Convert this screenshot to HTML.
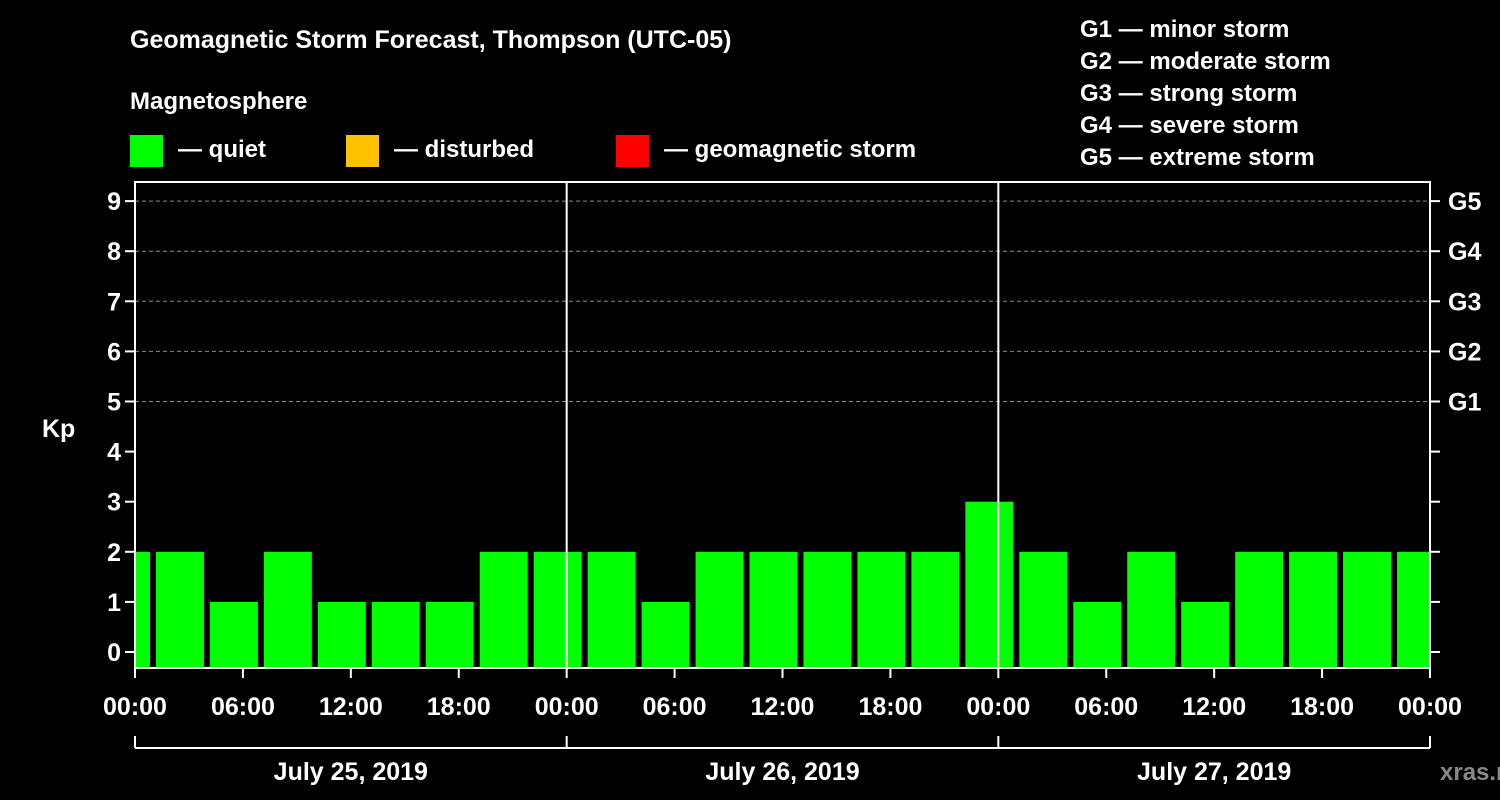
<!DOCTYPE html>
<html><head><meta charset="utf-8"><style>
html,body{margin:0;padding:0;background:#000;}
svg{display:block;font-family:"Liberation Sans",sans-serif;font-weight:bold;}
</style></head><body>
<svg id="chart" width="1500" height="800" viewBox="0 0 1500 800">
<rect width="1500" height="800" fill="#000"/>
<text x="130" y="48" fill="#fff" font-size="25">Geomagnetic Storm Forecast, Thompson (UTC-05)</text>
<text x="130" y="109" fill="#fff" font-size="24">Magnetosphere</text>
<g><rect x="130" y="135" width="33" height="32" fill="#00ff00"/><text x="178" y="157" fill="#fff" font-size="24">— quiet</text></g>
<g><rect x="346" y="135" width="33" height="32" fill="#ffc000"/><text x="394" y="157" fill="#fff" font-size="24">— disturbed</text></g>
<g><rect x="616" y="135" width="33" height="32" fill="#ff0000"/><text x="664" y="157" fill="#fff" font-size="24">— geomagnetic storm</text></g>
<g fill="#fff" font-size="24">
<text x="1080" y="37">G1 — minor storm</text>
<text x="1080" y="69">G2 — moderate storm</text>
<text x="1080" y="101">G3 — strong storm</text>
<text x="1080" y="133">G4 — severe storm</text>
<text x="1080" y="165">G5 — extreme storm</text>
</g>
<text x="42" y="437" fill="#fff" font-size="25">Kp</text>
<text x="1440" y="780" fill="#888" font-size="24">xras.ru</text>
<g id="plot"></g>
</svg>
<script>
const kpValues=[2,2,1,2,1,1,1,2,2,2,1,2,2,2,2,2,3,2,1,2,1,2,2,2,2];
const startHour=-2;
const yTicks=[0,1,2,3,4,5,6,7,8,9];
const gLevels=["G1","G2","G3","G4","G5"];
const xTickLabels=["00:00","06:00","12:00","18:00","00:00","06:00","12:00","18:00","00:00","06:00","12:00","18:00","00:00"];
const dayLabels=["July 25, 2019","July 26, 2019","July 27, 2019"];
const X0=135,X1=1430,Y0=182,Y1=668,H=72;
const xs=h=>X0+(h/H)*(X1-X0);
const ys=v=>652-v*50.1;
const NS="http://www.w3.org/2000/svg";
const plot=document.getElementById('plot');
function mk(t,a,p){const e=document.createElementNS(NS,t);for(const k in a)e.setAttribute(k,a[k]);(p||plot).appendChild(e);return e;}
// grid
for(let v=5;v<=9;v++){const l=mk('line',{x1:X0,x2:X1,y1:ys(v),y2:ys(v),stroke:'#888','stroke-dasharray':'4,3','stroke-width':1});

}
// bars
kpValues.forEach((v,i)=>{
 let h0=startHour+i*3,h1=h0+3;
 let a=Math.max(xs(h0)+3,X0+1),b=Math.min(xs(h1)-3,X1-1);
 const r=mk('rect',{x:a,y:ys(v),width:b-a,height:Y1-ys(v),fill:v>=5?'#ff0000':(v>=4?'#ffc000':'#00ff00')});
 
 
});
// frame
const fr=mk('rect',{x:X0,y:Y0,width:X1-X0,height:Y1-Y0,fill:'none',stroke:'#fff','stroke-width':2});


[24,48].forEach(h=>{const l=mk('line',{x1:xs(h),x2:xs(h),y1:Y0,y2:Y1,stroke:'#fff','stroke-width':2});

});
// y ticks
yTicks.forEach(v=>{
 mk('line',{x1:X0-10,x2:X0,y1:ys(v),y2:ys(v),stroke:'#fff','stroke-width':2});
 mk('line',{x1:X1,x2:X1+10,y1:ys(v),y2:ys(v),stroke:'#fff','stroke-width':2});
 const t=mk('text',{x:X0-14,y:ys(v)+9,fill:'#fff','font-size':25,'text-anchor':'end'});t.textContent=v;
 
 
});
gLevels.forEach((g,i)=>{const t=mk('text',{x:X1+18,y:ys(5+i)+9,fill:'#fff','font-size':25});t.textContent=g;
 
 });
// x ticks
xTickLabels.forEach((s,i)=>{const x=xs(i*6);
 mk('line',{x1:x,x2:x,y1:Y1,y2:Y1+10,stroke:'#fff','stroke-width':2});
 const t=mk('text',{x:x,y:715,fill:'#fff','font-size':25,'text-anchor':'middle'});t.textContent=s;
 
 });
// day bracket
mk('line',{x1:X0,x2:X1,y1:748,y2:748,stroke:'#fff','stroke-width':2});
[0,24,48,72].forEach(h=>mk('line',{x1:xs(h),x2:xs(h),y1:736,y2:748,stroke:'#fff','stroke-width':2}));
dayLabels.forEach((d,i)=>{const t=mk('text',{x:xs(i*24+12),y:780,fill:'#fff','font-size':25,'text-anchor':'middle'});t.textContent=d;
 
 });
</script>
</body></html>
